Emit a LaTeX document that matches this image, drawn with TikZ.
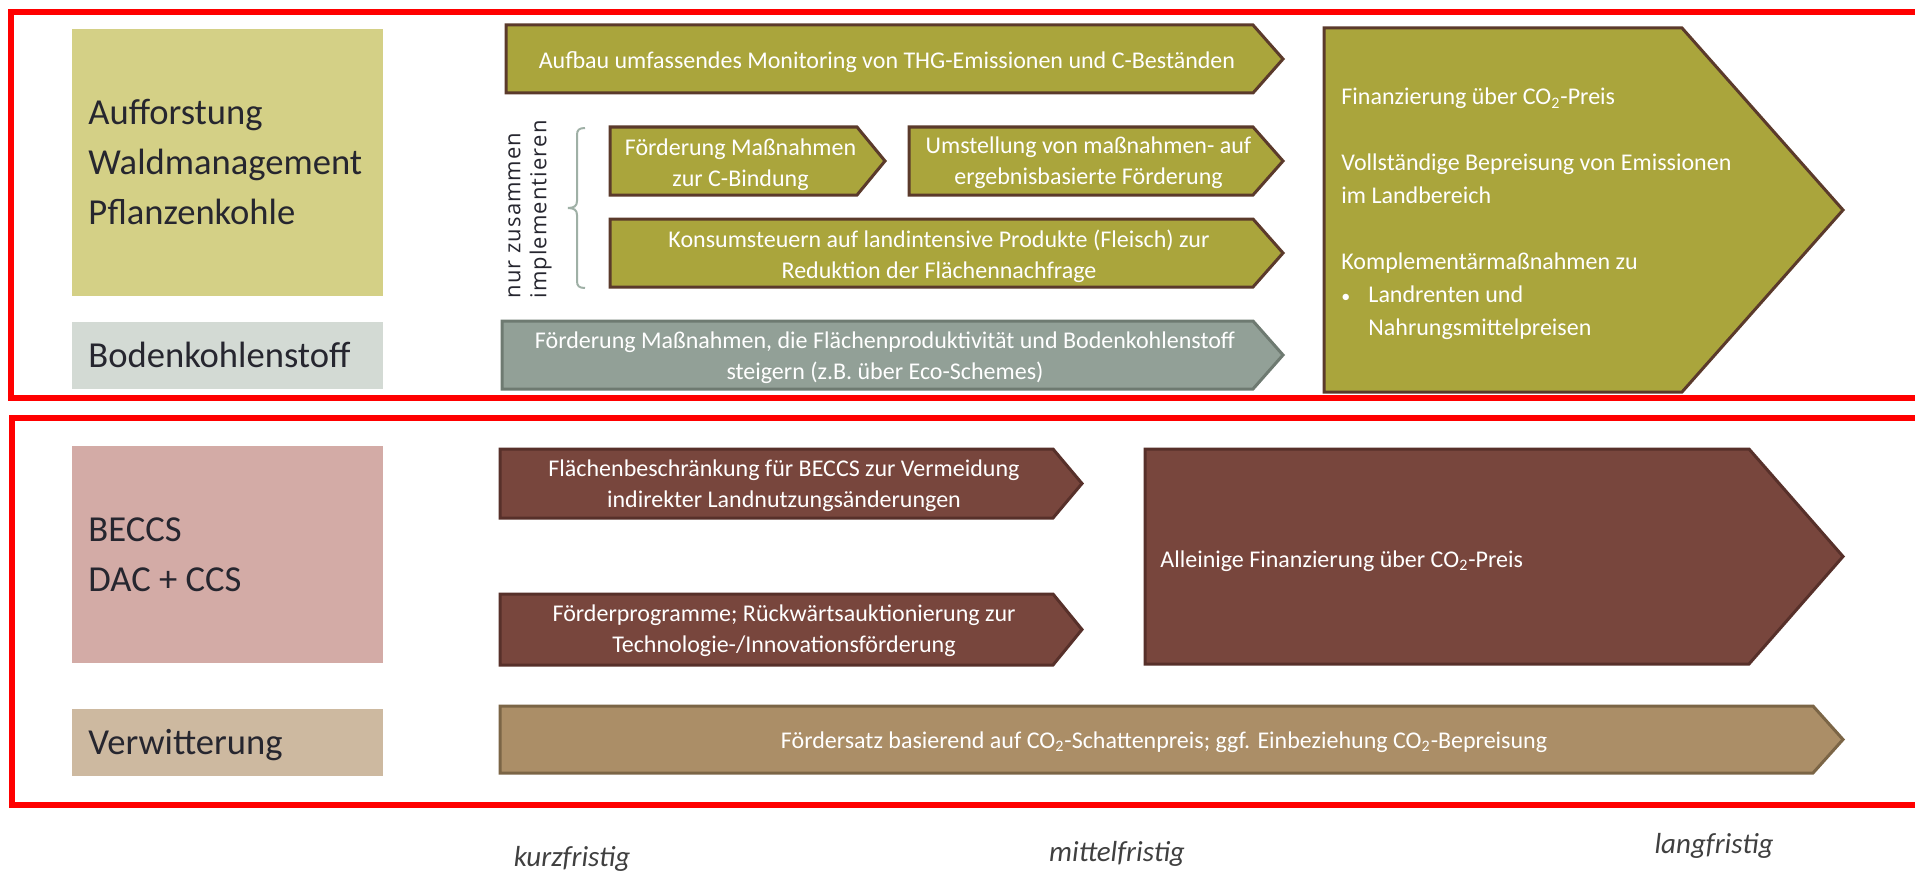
\documentclass[tikz,border=0pt]{standalone}
\usepackage{fontspec}
\setmainfont{Carlito}
\newfontfamily\sidefont[LetterSpace=5]{Open Sans}

\definecolor{frame}{HTML}{FF0000}
\definecolor{labelink}{HTML}{26262F}
\definecolor{timeink}{HTML}{404040}
\definecolor{forestbg}{HTML}{D4D086}
\definecolor{soilbg}{HTML}{D3DAD4}
\definecolor{beccsbg}{HTML}{D3ABA6}
\definecolor{weatherbg}{HTML}{CDB9A0}
\definecolor{olivefill}{HTML}{AAA53C}
\definecolor{olivedraw}{HTML}{5B3A2B}
\definecolor{greyfill}{HTML}{92A097}
\definecolor{greydraw}{HTML}{6E7A71}
\definecolor{brownfill}{HTML}{78463D}
\definecolor{browndraw}{HTML}{57302A}
\definecolor{tanfill}{HTML}{AB8E67}
\definecolor{tandraw}{HTML}{7B6546}
\definecolor{bracecol}{HTML}{9FB0A6}

% home-plate arrow: style, left, top, shoulder x, tip x, bottom
\newcommand\plate[6]{%
  \draw[#1] (#2,#3) -- (#4,#3) -- (#5,{(#3+#6)/2}) -- (#4,#6) -- (#2,#6) -- cycle;}

\tikzset{
  redframe/.style={draw=frame, line width=3pt},
  labeltext/.style={font=\fontsize{18.3}{25}\selectfont, text=labelink,
    align=left, anchor=west, inner sep=0pt},
  platetext/.style={font=\fontsize{12}{15.5}\selectfont, text=white,
    align=center, inner sep=0pt},
  widetext/.style={font=\fontsize{12}{16.5}\selectfont, text=white,
    align=left, anchor=west, inner sep=0pt},
  timetext/.style={font=\fontsize{14.5}{16}\selectfont\itshape, text=timeink,
    inner sep=0pt},
  oliveplate/.style={fill=olivefill, draw=olivedraw, line width=1.5pt},
  greyplate/.style={fill=greyfill, draw=greydraw, line width=1.5pt},
  brownplate/.style={fill=brownfill, draw=browndraw, line width=1.5pt},
  tanplate/.style={fill=tanfill, draw=tandraw, line width=1.5pt},
}

\begin{document}
\begin{tikzpicture}[x=0.5pt, y=-0.5pt]
\useasboundingbox (0,0) rectangle (1915,872);
\clip (0,0) rectangle (1915,872);
\fill[white] (0,0) rectangle (1915,872);

% ---- group frames ----
\draw[redframe] (11,12.5) rectangle (1935,398);
\draw[redframe] (12,418) rectangle (1935,805);

% ---- category boxes ----
\fill[forestbg]  (72,29)  rectangle (383,296);
\fill[soilbg]    (72,322) rectangle (383,389);
\fill[beccsbg]   (72,446) rectangle (383,663);
\fill[weatherbg] (72,709) rectangle (383,776);

\node[labeltext] (forest) at (88,162) {Aufforstung\\Waldmanagement\\Pflanzenkohle};
\node[labeltext] (soil) at (88,355) {Bodenkohlenstoff};
\node[labeltext] (beccs) at (88,554.5) {BECCS\\DAC + CCS};
\node[labeltext] (weather) at (88,745.5) {Verwitterung};

% ---- land-based measures ----
\plate{oliveplate}{506}{25}{1253}{1283}{93}
\node[platetext] (monitoring) at (887,62) {Aufbau umfassendes Monitoring von THG-Emissionen und C-Beständen};

\plate{oliveplate}{610}{127}{857}{885}{195}
\node[platetext] (cbind) at (740.5,165) {Förderung Maßnahmen\\zur C-Bindung};

\plate{oliveplate}{909}{127}{1253}{1283}{195}
\node[platetext] (result) at (1088.5,163) {Umstellung von maßnahmen- auf\\ergebnisbasierte Förderung};

\plate{oliveplate}{610}{219}{1253}{1283}{287}
\node[platetext] (tax) at (939,256.5) {Konsumsteuern auf landintensive Produkte (Fleisch) zur\\Reduktion der Flächennachfrage};

\plate{greyplate}{502}{321}{1253}{1283}{389}
\node[platetext] (eco) at (885,358) {Förderung Maßnahmen, die Flächenproduktivität und Bodenkohlenstoff\\steigern (z.B. über Eco-Schemes)};

\plate{oliveplate}{1324}{28}{1682}{1843}{392}
\node[widetext] (pricing) at (1341,214) {Finanzierung über CO\textsubscript{2}-Preis\\[16.5pt]
  Vollständige Bepreisung von Emissionen\\im Landbereich\\[16.5pt]
  Komplementärmaßnahmen zu\\
  \makebox[13.5pt][l]{\fontsize{9}{9}\selectfont •}Landrenten und\\
  \hspace*{13.5pt}Nahrungsmittelpreisen};

% brace grouping the measures to be combined
\draw[bracecol, line width=1pt]
  (585,128) .. controls (579,128) and (577,130) .. (577,135) -- (577,201)
  .. controls (577,206) and (574,208) .. (568,208)
  .. controls (574,208) and (577,210) .. (577,215) -- (577,281)
  .. controls (577,286) and (579,288) .. (585,288);
\node[font=\sidefont\fontsize{11}{13}\selectfont, text=labelink, align=left,
  rotate=90, inner sep=0pt] (together) at (530,209.5) {nur zusammen\\implementieren};

% ---- technical removals ----
\plate{brownplate}{500}{449}{1053}{1082}{518}
\node[platetext] (limit) at (784,486) {Flächenbeschränkung für BECCS zur Vermeidung\\indirekter Landnutzungsänderungen};

\plate{brownplate}{500}{594}{1053}{1082}{665}
\node[platetext] (auction) at (784,631) {Förderprogramme; Rückwärtsauktionierung zur\\Technologie-/Innovationsförderung};

\plate{brownplate}{1145}{449}{1749}{1843}{664}
\node[widetext] (sole) at (1160,561) {Alleinige Finanzierung über CO\textsubscript{2}-Preis};

\plate{tanplate}{500}{706}{1813}{1843}{773}
\node[platetext] (rate) at (1164,742) {Fördersatz basierend auf CO\textsubscript{2}-Schattenpreis; ggf. Einbeziehung CO\textsubscript{2}-Bepreisung};

% ---- time axis ----
\node[timetext] (short) at (572,859) {kurzfristig};
\node[timetext] (medium) at (1117,854) {mittelfristig};
\node[timetext] (long) at (1714,846) {langfristig};
\end{tikzpicture}
\end{document}
